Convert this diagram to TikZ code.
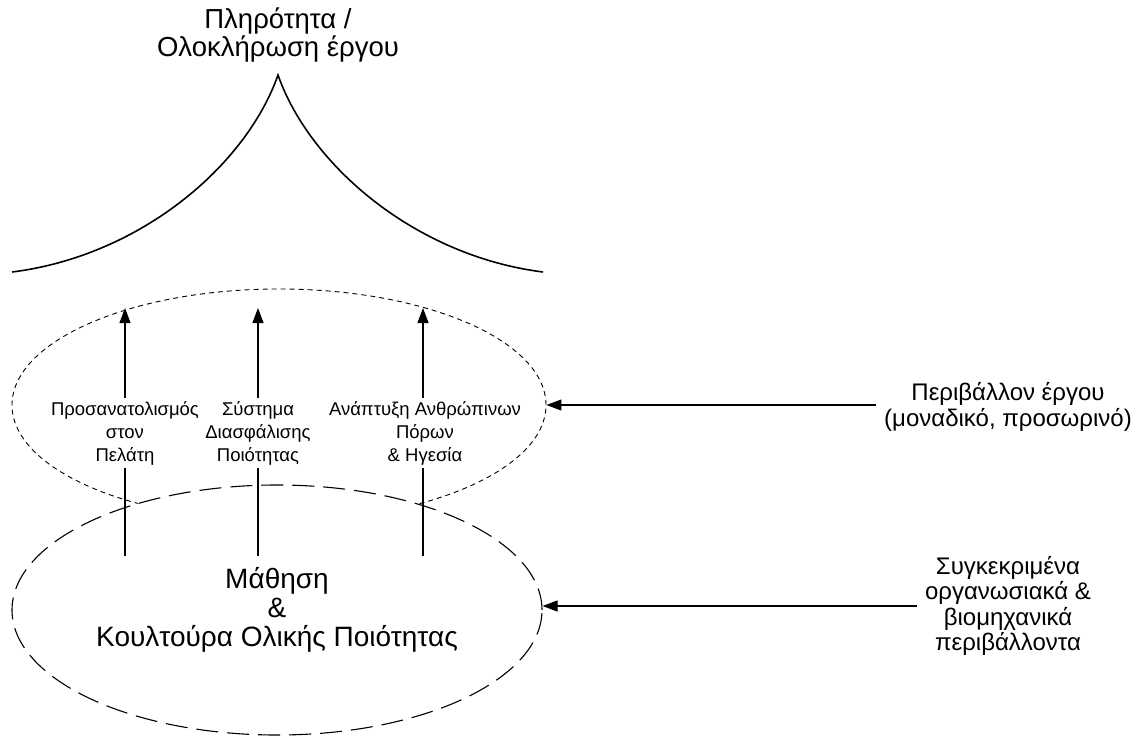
\documentclass[tikz,border=0pt]{standalone}
\usepackage{fontspec}
\setmainfont{Liberation Sans}
\usetikzlibrary{arrows.meta,shapes.geometric}

\begin{document}
\begin{tikzpicture}[x=1pt,y=-1pt,
  line width=1.1pt,
  lbl/.style={align=center,font=\fontsize{18.5}{23}\selectfont,inner sep=3pt},
  side/.style={align=center,font=\fontsize{24}{25.5}\selectfont,inner xsep=8pt},
  arr/.style={-{Triangle[length=15pt,width=11pt]}},
  ring/.style={ellipse,inner sep=0pt,draw},
]
\useasboundingbox (0,0) rectangle (1135,737);

% project completion: cusp-shaped top
\node[align=center,font=\fontsize{27.5}{28}\selectfont] (goal) at (278,35) {Πληρότητα /\\Ολοκλήρωση έργου};
\coordinate (peak) at (278,75);
\coordinate (cl) at (12,272);
\coordinate (cr) at (543,272);
\draw[line width=1.6pt] (cl) .. controls (140,256) and (246,166) .. (peak)
      .. controls (310,166) and (416,256) .. (cr);

% project environment (dotted)
\node[ring,line width=0.9pt,dash pattern=on 5pt off 4pt,minimum width=534,minimum height=232] (env) at (279,405) {};

% learning & TQM culture (dashed, covers the lower part of the dotted ring)
\node[ring,fill=white,dash pattern=on 22pt off 9pt,minimum width=530,minimum height=250,
      align=center,font=\fontsize{28}{29}\selectfont] (learn) at (277,610)
      {Μάθηση\\\&\\Κουλτούρα Ολικής Ποιότητας};

% three pillars
\node[lbl] (cust) at (125,433) {Προσανατολισμός\\στον\\Πελάτη};
\node[lbl] (qas)  at (258,433) {Σύστημα\\Διασφάλισης\\Ποιότητας};
\node[lbl] (hr)   at (425,433) {Ανάπτυξη Ανθρώπινων\\Πόρων\\\& Ηγεσία};

\coordinate (custB) at (125,556);
\coordinate (qasB)  at (258,556);
\coordinate (hrB)   at (423,556);
\coordinate (custT) at (125,308);
\coordinate (qasT)  at (258,308);
\coordinate (hrT)   at (423,308);

\draw (custB) -- (custB |- cust.south);
\draw (qasB)  -- (qasB |- qas.south);
\draw (hrB)   -- (hrB |- hr.south);
\draw[arr] (custT |- cust.north) -- (custT);
\draw[arr] (qasT |- qas.north)  -- (qasT);
\draw[arr] (hrT |- hr.north)    -- (hrT);

% external environments
\node[side] (proj) at (1008,407) {Περιβάλλον έργου\\(μοναδικό, προσωρινό)};
\node[side] (org)  at (1008,606) {Συγκεκριμένα\\οργανωσιακά \&\\βιομηχανικά\\περιβάλλοντα};

\draw[arr] (proj.west |- env.east) -- (env.east);
\draw[arr] (org.west) -- (org.west -| learn.east);
\end{tikzpicture}
\end{document}
